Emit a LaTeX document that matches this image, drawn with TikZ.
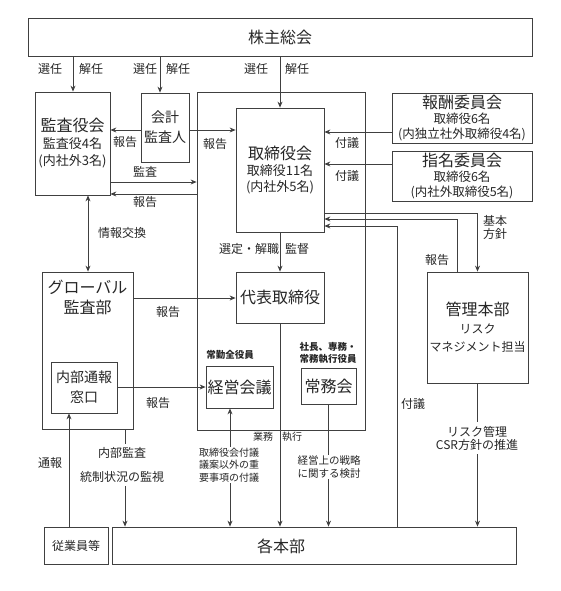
\documentclass[tikz,border=0pt]{standalone}
\usepackage{fontspec}
\setmainfont{Noto Sans CJK JP}
\usetikzlibrary{arrows.meta}
\newcommand{\fsz}[2]{\fontsize{#1}{#2}\selectfont}
\tikzset{
  ln/.style={draw=black!75, line width=0.8pt},
  box/.style={draw=black!75, line width=0.8pt, inner sep=0pt, align=center},
  lbl/.style={font=\fsz{12}{14}, inner sep=1pt, text=black!85},
  note/.style={font=\fsz{10}{12.5}, inner sep=1pt, align=center, fill=white, text=black!85},
  head/.style={font=\bfseries\fsz{9.5}{12}, inner sep=1pt, align=center}
}
\begin{document}
\begin{tikzpicture}[x=1pt,y=-1pt,>={Stealth[length=6pt,width=5pt]},text=black!85]
\useasboundingbox (0,0) rectangle (560,591);
\node[box, minimum width=504, minimum height=38, font=\fsz{16}{19}] (kabu) at (280,37) {株主総会};
\node[box, minimum width=75, minimum height=103, font=\fsz{13}{17}] (kansa) at (72.5,143.5) {{\fsz{16}{19}監査役会}\\監査役4名\\(内社外3名)};
\node[box, minimum width=48, minimum height=69, font=\fsz{14}{20}] (kaikei) at (165,127.5) {会計\\監査人};
\node[box, minimum width=168, minimum height=338] (shikko) at (281,261) {};
\node[box, minimum width=88, minimum height=124, font=\fsz{13}{16}] (torishimari) at (280,170) {{\fsz{16}{19}取締役会}\\取締役11名\\(内社外5名)};
\node[box, minimum width=140, minimum height=50, font=\fsz{12.5}{15}] (hoshu) at (462,118) {{\fsz{16}{19}報酬委員会}\\取締役6名\\(内独立社外取締役4名)};
\node[box, minimum width=140, minimum height=50, font=\fsz{12.5}{15}] (shimei) at (462,176) {{\fsz{16}{19}指名委員会}\\取締役6名\\(内社外取締役5名)};
\node[box, minimum width=91, minimum height=157] (global) at (87.5,350.5) {};
\node[font=\fsz{16}{20}, align=center] (globaltxt) at (87.5,297) {グローバル\\監査部};
\node[box, minimum width=88, minimum height=51, font=\fsz{16}{19}] (daihyo) at (280,297.5) {代表取締役};
\node[box, minimum width=66, minimum height=51, font=\fsz{14}{20}] (naibu) at (84,387.5) {内部通報\\窓口};
\node[box, minimum width=67, minimum height=42, font=\fsz{16}{19}] (keiei) at (239.5,387) {経営会議};
\node[box, minimum width=55, minimum height=36, font=\fsz{16}{19}] (jomu) at (328.5,386) {常務会};
\node[box, minimum width=101, minimum height=111, font=\fsz{12}{18}] (kanri) at (477.5,327.5) {{\fsz{16}{19}管理本部}\\リスク\\マネジメント担当};
\node[box, minimum width=64, minimum height=37, font=\fsz{12}{14}] (jugyoin) at (76,545.5) {従業員等};
\node[box, minimum width=404, minimum height=37] (kakuhonbu) at (314,545.5) {};
\node[font=\fsz{16}{19}] (kakutxt) at (281,546) {各本部};
\node[head] (jokin) at (230,355) {常勤全役員};
\node[head] (shacho) at (328,353) {社長、専務・\\常務執行役員};
% 株主総会から
\draw[ln,->] (kabu.south -| 73,0) -- (kansa.north -| 73,0);
\draw[ln,->] (kabu.south -| 160,0) -- (kaikei.north -| 160,0);
\draw[ln,->] (kabu.south -| torishimari.north) -- (torishimari.north);
\node[lbl] (sen1) at (50,69) {選任};
\node[lbl] (kai1) at (91,69) {解任};
\node[lbl] (sen2) at (145,69) {選任};
\node[lbl] (kai2) at (178,69) {解任};
\node[lbl] (sen3) at (256,69) {選任};
\node[lbl] (kai3) at (297,69) {解任};
% 監査役会まわり
\draw[ln,->] (kaikei.west |- 0,130) -- (kansa.east |- 0,130);
\draw[ln,->] (kaikei.east |- 0,130) -- (torishimari.west |- 0,130);
\draw[ln,->] (kansa.east |- 0,182) -- (shikko.west |- 0,182);
\draw[ln,->] (shikko.west |- 0,194) -- (kansa.east |- 0,194);
\draw[ln,<->] (kansa.south -| 88,0) -- (global.north -| 88,0);
\node[lbl] (hok1) at (125,142) {報告};
\node[lbl] (hok2) at (215,144) {報告};
\node[lbl] (kansalbl) at (145,172) {監査};
\node[lbl] (hok3) at (145,202) {報告};
\node[lbl] (joho) at (122,233) {情報交換};
% 委員会・管理本部
\draw[ln,->] (hoshu.west |- 0,132) -- (torishimari.east |- 0,132);
\draw[ln,->] (shimei.west |- 0,164) -- (torishimari.east |- 0,164);
\draw[ln,->] (torishimari.east |- 0,213) -| (kanri.north);
\draw[ln,->] (kanri.north -| 457,0) |- (torishimari.east |- 0,219);
\draw[ln,->] (kakuhonbu.north -| 397,0) |- (torishimari.east |- 0,226);
\node[lbl] (fugi1) at (347,143) {付議};
\node[lbl] (fugi2) at (347,176) {付議};
\node[lbl, align=center, font=\fsz{12}{13}] (hoshin) at (495,227) {基本\\方針};
\node[lbl] (hok4) at (437,260) {報告};
\node[lbl] (fugi3) at (413,404) {付議};
% 執行側
\draw[ln,->] (torishimari.south) -- (daihyo.north);
\draw[ln,->] (global.east |- 0,298) -- (daihyo.west |- 0,298);
\draw[ln,->] (naibu.east |- 0,387) -- (keiei.west |- 0,387);
\draw[ln,->] (daihyo.south) -- (kakuhonbu.north -| daihyo.south);
\draw[ln,<->] (keiei.south -| 230,0) -- (kakuhonbu.north -| 230,0);
\draw[ln,->] (jomu.south) -- (kakuhonbu.north -| jomu.south);
\draw[ln,->] (global.south -| 125,0) -- (kakuhonbu.north -| 125,0);
\draw[ln,->] (jugyoin.north -| 69,0) -- (naibu.south -| 69,0);
\draw[ln,->] (kanri.south) -- (kakuhonbu.north -| kanri.south);
\node[lbl] (sentei) at (249,249) {選定・解職};
\node[lbl] (kantoku) at (297,249) {監督};
\node[lbl] (hok5) at (168,312) {報告};
\node[lbl] (hok6) at (158,403) {報告};
\node[lbl, font=\fsz{10}{12}] (gyomu) at (263,437) {業務};
\node[lbl, font=\fsz{10}{12}] (shikkolbl) at (292,437) {執行};
\node[lbl] (tsuho) at (50,463) {通報};
\node[note] (fugiyoji) at (229,465) {取締役会付議\\議案以外の重\\要事項の付議};
\node[note, font=\fsz{10.5}{13}] (senryaku) at (329,467) {経営上の戦略\\に関する検討};
\node[note, font=\fsz{12}{24}, inner sep=3pt] (naibukansa) at (122,465) {内部監査\\統制状況の監視};
\node[note, font=\fsz{12}{13}, inner sep=4pt] (risk) at (477,438) {リスク管理\\CSR方針の推進};
\end{tikzpicture}
\end{document}
